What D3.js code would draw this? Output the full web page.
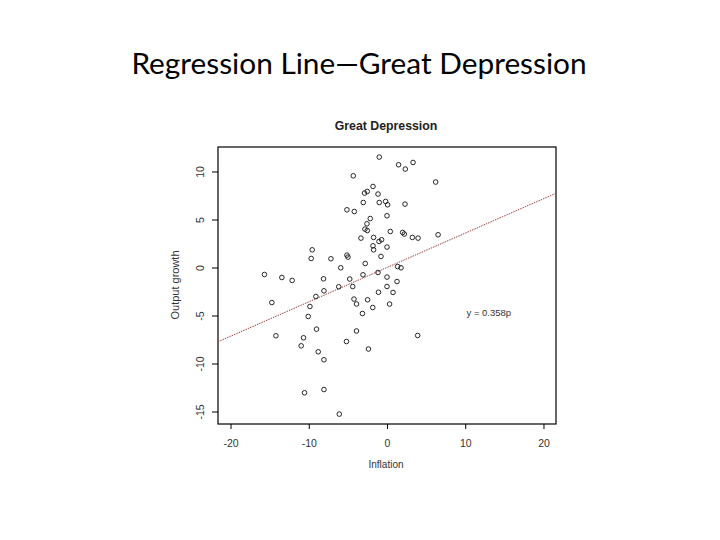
<!DOCTYPE html>
<html>
<head>
<meta charset="utf-8">
<script src="https://cdn.jsdelivr.net/npm/d3@7"></script>
<style>
  body { margin: 0; background: #fff; }
  svg text { font-family: "Liberation Sans", Arial, sans-serif; }
</style>
</head>
<body>
<div id="slide"></div>
<script>
// inflation (x) and output growth (y)
var inflation = [
  -0.99, 1.48, 2.34, 3.33, -4.31, 6.22, -1.79, -2.87, -2.52, -1.15,
  -3.03, -0.99, -0.18, 0.08, 2.30, -5.12, -4.18, 0.00, -2.14, -2.56,
  -2.82, -2.52, 0.42, 2.00, 2.21, 3.24, 3.97, 6.53, -3.33, -1.71,
  -1.02, -0.69, -1.79, 0.00, -9.56, -9.69, -7.17, -5.12, -4.99, -0.77,
  -5.91, -2.78, 1.36, 1.79, -15.66, -13.44, -12.12, -8.11, -4.76, -3.07,
  -1.15, 0.00, 1.28, -8.06, -6.17, -4.38, 0.00, -9.09, -1.09, 0.77,
  -14.72, -9.85, -4.22, -3.90, -2.48, -1.82, 0.33, -3.14, -10.07, -9.01,
  -3.90, -14.20, -10.67, -10.97, -5.18, 3.92, -2.37, -8.79, -8.06, -10.54,
  -8.06, -6.10, -1.71
];
var outputGrowth = [
  11.50, 10.70, 10.25, 10.94, 9.55, 8.90, 8.44, 7.75, 7.92, 7.65,
  6.77, 6.77, 6.88, 6.53, 6.60, 6.01, 5.83, 5.39, 5.10, 4.55,
  4.00, 3.85, 3.75, 3.65, 3.48, 3.13, 3.06, 3.41, 3.06, 3.13,
  2.71, 2.89, 2.26, 2.13, 1.84, 0.94, 0.91, 1.29, 1.08, 1.15,
  -0.03, 0.42, 0.10, -0.03, -0.73, -1.04, -1.35, -1.18, -1.20, -0.76,
  -0.52, -1.00, -1.46, -2.43, -2.01, -1.98, -1.98, -3.02, -2.58, -2.60,
  -3.65, -4.06, -3.29, -3.80, -3.36, -4.17, -3.81, -4.79, -5.10, -6.42,
  -6.61, -7.11, -7.32, -8.16, -7.71, -7.08, -8.49, -8.78, -9.61, -13.05,
  -12.71, -15.27, 1.84
];
var xTicks = [-20, -10, 0, 10, 20];
var yTicks = [10, 5, 0, -5, -10, -15];
var xDomain = [-21.6, 21.6];
var yDomain = [-16.3, 12.55];
var slope = 0.358;

var w = 720, h = 540,
    plotLeft = 218, plotTop = 147, plotRight = 556, plotBottom = 424;

var svg = d3.select('#slide')
  .append('svg')
  .attr('width', w)
  .attr('height', h);

svg.append('text')
  .attr('x', 359)
  .attr('y', 74)
  .attr('text-anchor', 'middle')
  .style('font-family', 'Lato, "Open Sans", sans-serif')
  .style('font-size', '29.8px')
  .style('fill', '#000')
  .text('Regression Line\u2014Great Depression');

var x = d3.scaleLinear().domain(xDomain).range([plotLeft, plotRight]);
var y = d3.scaleLinear().domain(yDomain).range([plotBottom, plotTop]);
var plain = function(d){ return String(d); };

// chart title
svg.append('text')
  .attr('x', 386)
  .attr('y', 129.5)
  .attr('text-anchor', 'middle')
  .style('font-size', '12.3px')
  .style('font-weight', 'bold')
  .style('fill', '#222')
  .text('Great Depression');

// plot box
svg.append('rect')
  .attr('x', plotLeft)
  .attr('y', plotTop)
  .attr('width', plotRight - plotLeft)
  .attr('height', plotBottom - plotTop)
  .style('fill', 'none')
  .style('stroke', '#000')
  .style('stroke-width', 1.2);

// x axis
var xAxis = svg.append('g')
  .attr('transform', 'translate(0,' + plotBottom + ')')
  .call(d3.axisBottom(x).tickValues(xTicks).tickFormat(plain).tickSize(5).tickSizeOuter(0));
xAxis.select('.domain').remove();
xAxis.selectAll('text')
  .attr('y', 22.5)
  .attr('dy', 0)
  .style('font-size', '10.5px')
  .style('fill', '#333');

// y axis, labels parallel to the axis
var yAxis = svg.append('g')
  .attr('transform', 'translate(' + plotLeft + ',0)')
  .call(d3.axisLeft(y).tickValues(yTicks).tickFormat(plain).tickSize(6).tickSizeOuter(0));
yAxis.select('.domain').remove();
yAxis.selectAll('text')
  .attr('x', 0)
  .attr('dy', 0)
  .attr('text-anchor', 'middle')
  .attr('transform', 'translate(-14.5,0) rotate(-90)')
  .style('font-size', '10.5px')
  .style('fill', '#333');

svg.append('text')
  .attr('x', 386)
  .attr('y', 467.5)
  .attr('text-anchor', 'middle')
  .style('font-size', '10px')
  .style('fill', '#333')
  .text('Inflation');

svg.append('text')
  .attr('transform', 'translate(179,285) rotate(-90)')
  .attr('text-anchor', 'middle')
  .style('font-size', '11px')
  .style('fill', '#333')
  .text('Output growth');

// regression line through the origin
var line = d3.line()
  .x(function(d){ return x(d); })
  .y(function(d){ return y(slope * d); });
svg.append('path')
  .datum(xDomain)
  .attr('d', line)
  .style('fill', 'none')
  .style('stroke', '#a04040')
  .style('stroke-width', 1)
  .style('stroke-dasharray', '1.5,1');

// points
svg.selectAll('circle.pt')
  .data(inflation)
  .enter()
  .append('circle')
  .attr('class', 'pt')
  .attr('cx', function(d){ return x(d); })
  .attr('cy', function(d, i){ return y(outputGrowth[i]); })
  .attr('r', 2.3)
  .style('fill', 'none')
  .style('stroke', '#111')
  .style('stroke-width', 0.9);

svg.append('text')
  .attr('x', 466.5)
  .attr('y', 316)
  .style('font-size', '9.5px')
  .style('fill', '#333')
  .text('y = 0.358p');
</script>
</body>
</html>
